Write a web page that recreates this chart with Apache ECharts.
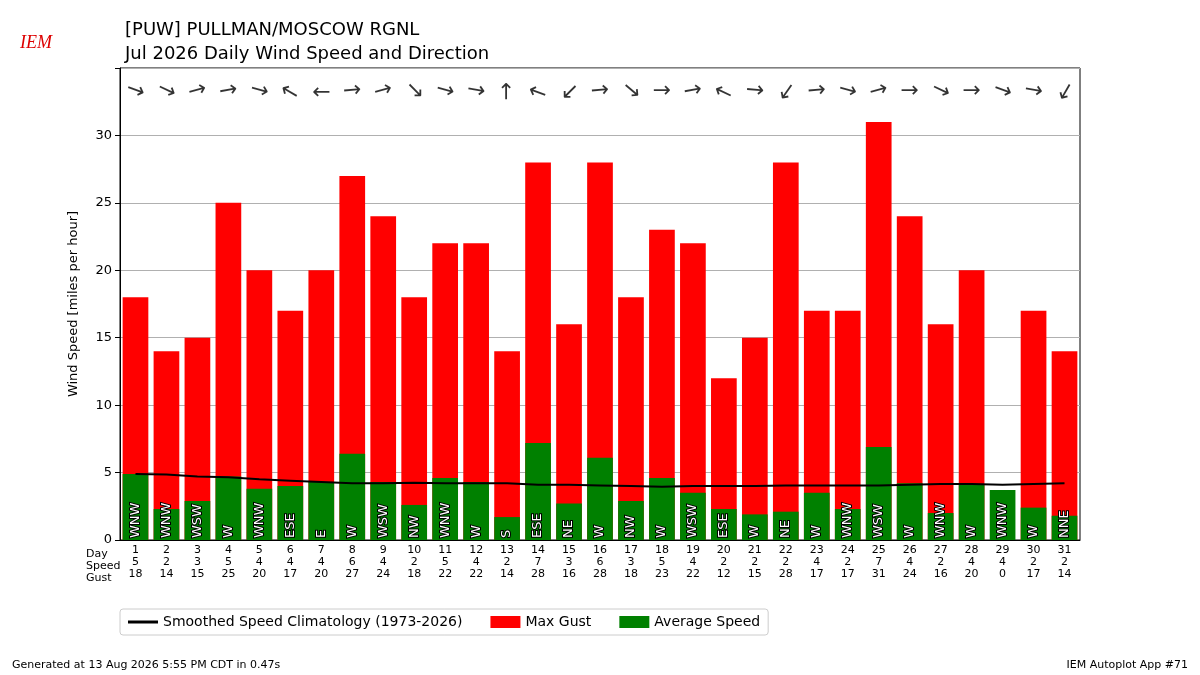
<!DOCTYPE html>
<html>
<head>
<meta charset="utf-8">
<script src="https://cdn.jsdelivr.net/npm/echarts@6/dist/echarts.min.js"></script>
<style>body{margin:0}#main{width:1200px;height:675px}</style>
</head>
<body>
<div id="main"></div>
<script>
var days = [];
for (var i = 1; i <= 31; i++) days.push(i);
var speedLbl = [5,2,3,5,4,4,4,6,4,2,5,4,2,7,3,6,3,5,4,2,2,2,4,2,7,4,2,4,4,2,2];
var gust = [18,14,15,25,20,17,20,27,24,18,22,22,14,28,16,28,18,23,22,12,15,28,17,17,31,24,16,20,0,17,14];
var avgSpeed = [4.9,2.3,2.9,4.7,3.8,4.0,4.3,6.4,4.3,2.6,4.6,4.3,1.7,7.2,2.7,6.1,2.9,4.6,3.5,2.3,1.9,2.1,3.5,2.3,6.9,4.2,2.0,4.1,3.7,2.4,1.8];
var dirs = ['WNW','WNW','WSW','W','WNW','ESE','E','W','WSW','NW','WNW','W','S','ESE','NE','W','NW','W','WSW','ESE','W','NE','W','WNW','WSW','W','WNW','W','WNW','W','NNE'];
var arrowRot = [-20,-25,15,10,-15,150,180,5,15,-45,-15,-10,90,160,-135,5,-40,0,10,155,-5,-125,5,-15,15,0,-25,0,-20,-10,-120];
var clim = [4.9,4.85,4.7,4.65,4.5,4.4,4.3,4.2,4.2,4.25,4.2,4.2,4.2,4.1,4.1,4.05,4.0,3.95,4.0,4.0,4.0,4.05,4.05,4.05,4.05,4.1,4.15,4.15,4.1,4.15,4.2];

var cats = days.map(function (d, i) { return d + '\n' + speedLbl[i] + '\n' + gust[i]; });
var font = 'DejaVu Sans';
var chart = echarts.init(document.getElementById('main'));
chart.setOption({
  animation: false,
  textStyle: { fontFamily: font },
  title: {
    text: '[PUW] PULLMAN/MOSCOW RGNL\nJul 2026 Daily Wind Speed and Direction',
    left: 120, top: 13,
    textStyle: { fontSize: 18, fontWeight: 'normal', color: '#000', lineHeight: 24, fontFamily: font }
  },
  grid: { left: 120, right: 120, top: 68, bottom: 135, show: true, borderColor: '#000', borderWidth: 1 },
  legend: {
    bottom: 40, left: 120, itemGap: 28,
    borderColor: '#ccc', borderWidth: 1, borderRadius: 3, padding: [6, 8],
    textStyle: { fontSize: 14, color: '#000' },
    data: [
      { name: 'Smoothed Speed Climatology (1973-2026)', icon: 'path://M0,0 L40,0 L40,4 L0,4 Z' },
      { name: 'Max Gust', icon: 'rect' },
      { name: 'Average Speed', icon: 'rect' }
    ],
    itemWidth: 30, itemHeight: 12
  },
  xAxis: {
    type: 'category', data: cats,
    axisLine: { lineStyle: { color: '#000' } },
    axisTick: { alignWithLabel: true, lineStyle: { color: '#000' } },
    axisLabel: { color: '#000', fontSize: 11, lineHeight: 12, interval: 0, margin: 4 }
  },
  yAxis: {
    type: 'value', min: 0, max: 35, interval: 5,
    name: 'Wind Speed [miles per hour]', nameLocation: 'middle', nameGap: 40,
    nameTextStyle: { fontSize: 13, color: '#000' },
    axisLine: { show: true, lineStyle: { color: '#000' } },
    axisTick: { show: true, lineStyle: { color: '#000' } },
    axisLabel: { color: '#000', fontSize: 13, formatter: function (v) { return v === 35 ? '' : v; } },
    splitLine: { lineStyle: { color: '#b0b0b0' } }
  },
  graphic: [
    { type: 'text', x: 86, y: 548, style: { text: 'Day\nSpeed\nGust', align: 'left', font: '11px DejaVu Sans', lineHeight: 12, fill: '#000' } },
    { type: 'text', left: 20, top: 34, style: { text: 'IEM', font: 'italic 18px Liberation Serif', fill: '#d00' } },
    { type: 'text', left: 12, top: 660, style: { text: 'Generated at 13 Aug 2026 5:55 PM CDT in 0.47s', font: '11px DejaVu Sans', fill: '#000' } },
    { type: 'text', right: 12, top: 660, style: { text: 'IEM Autoplot App #71', font: '11px DejaVu Sans', fill: '#000', align: 'right' } }
  ],
  series: [
    {
      name: 'Max Gust', type: 'bar', data: gust, barCategoryGap: '17%', barGap: '-100%',
      itemStyle: { color: '#ff0000' }
    },
    {
      name: 'Average Speed', type: 'bar', data: avgSpeed,
      itemStyle: { color: '#008000' },
      label: {
        show: true, position: 'insideBottom', rotate: 90, align: 'left', verticalAlign: 'middle',
        distance: 2, color: '#fff', fontSize: 13, textBorderColor: '#000', textBorderWidth: 2,
        formatter: function (p) { return dirs[p.dataIndex]; }
      }
    },
    {
      name: 'Smoothed Speed Climatology (1973-2026)', type: 'line', data: clim,
      symbol: 'none', lineStyle: { color: '#000', width: 2 }, itemStyle: { color: '#000' }, z: 5
    },
    {
      name: 'arrows', type: 'scatter', symbolSize: 0, silent: true,
      data: arrowRot.map(function (r) {
        return { value: 33.3, label: { rotate: r } };
      }),
      label: { show: true, position: 'inside', formatter: '→', fontSize: 22, color: '#000' }
    }
  ]
});
</script>
</body>
</html>
